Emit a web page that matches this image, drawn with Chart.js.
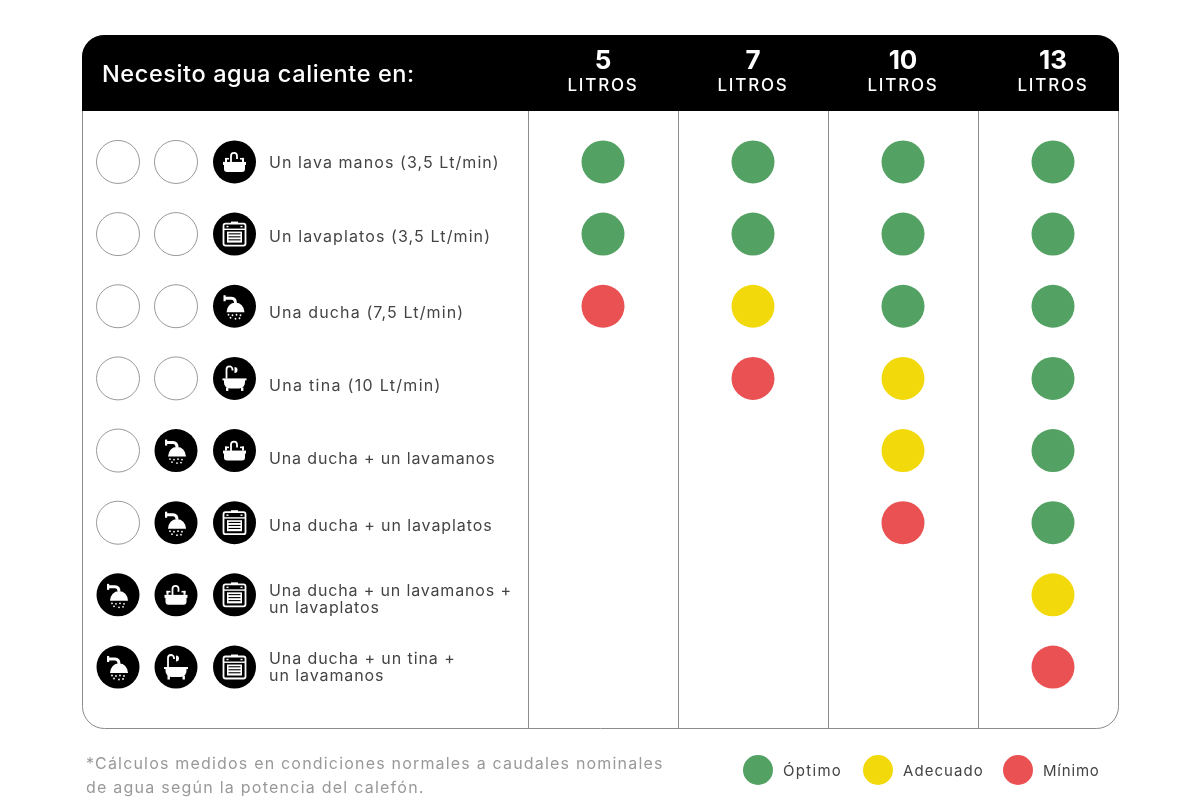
<!DOCTYPE html>
<html lang="es">

<head>
  <meta charset="UTF-8">
  <title>Necesito agua caliente en</title>
  <script src="https://cdn.jsdelivr.net/npm/chart.js"></script>
  <style>
    html, body { margin: 0; padding: 0; background: #fff; }
    canvas { display: block; }
  </style>
</head>

<body>
  <canvas id="grafico" width="1200" height="807"></canvas>

<script>
  const litros = ['5', '7', '10', '13'];
  const usos = [
    ['Un lava manos (3,5 Lt/min)'],
    ['Un lavaplatos (3,5 Lt/min)'],
    ['Una ducha (7,5 Lt/min)'],
    ['Una tina (10 Lt/min)'],
    ['Una ducha + un lavamanos'],
    ['Una ducha + un lavaplatos'],
    ['Una ducha + un lavamanos +', 'un lavaplatos'],
    ['Una ducha + un tina +', 'un lavamanos']
  ];

  // 1 = minimo, 2 = adecuado, 3 = optimo, 0 = nada
  const nivel5 = [3, 3, 1, 0, 0, 0, 0, 0];
  const nivel7 = [3, 3, 2, 1, 0, 0, 0, 0];
  const nivel10 = [3, 3, 3, 2, 2, 1, 0, 0];
  const nivel13 = [3, 3, 3, 3, 3, 3, 2, 1];
  const niveles = [nivel5, nivel7, nivel10, nivel13];

  const nombresNivel = ['Óptimo', 'Adecuado', 'Mínimo'];
  const valoresNivel = [3, 2, 1];
  const coloresNivel = ['#53a264', '#f2d90b', '#e95153'];

  const iconos = [
    [null, null, 'lavamanos'],
    [null, null, 'lavaplatos'],
    [null, null, 'ducha'],
    [null, null, 'tina'],
    [null, 'ducha', 'lavamanos'],
    [null, 'ducha', 'lavaplatos'],
    ['ducha', 'lavamanos', 'lavaplatos'],
    ['ducha', 'tina', 'lavaplatos']
  ];

  const ajusteTexto = [1, 3, 7, 8, 9, 3, -4, -8];
  const espacioTexto = [1.08, 1.1, 1.12, 1.3, 0.87, 0.9, 0.85, 0.92];
  const FUENTE = 'Inter, sans-serif';

  function puntos(valor) {
    const lista = [];
    niveles.forEach((col, i) => {
      col.forEach((n, fila) => {
        if (n === valor) lista.push({ x: litros[i], y: fila });
      });
    });
    return lista;
  }

  function texto(ctx, str, x, y, font, color, align, espacio) {
    ctx.font = font;
    ctx.fillStyle = color;
    ctx.textAlign = align || 'left';
    ctx.textBaseline = 'middle';
    ctx.letterSpacing = (espacio || 0) + 'px';
    ctx.fillText(str, x, y);
    ctx.letterSpacing = '0px';
  }

  function cajaRedonda(ctx, x, y, w, h, r) {
    ctx.beginPath();
    ctx.roundRect(x, y, w, h, r);
  }

  function lavamanos(ctx) {
    ctx.fillRect(-11.5, 0, 23, 3);
    cajaRedonda(ctx, -10.5, 2, 21, 8, [0, 0, 3, 3]);
    ctx.fill();
    ctx.beginPath();
    ctx.moveTo(-3.5, 1);
    ctx.lineTo(-3.5, -6);
    ctx.arc(-0.5, -6, 3, Math.PI, 0);
    ctx.lineTo(2.5, -3);
    ctx.stroke();
    ctx.fillRect(-9.5, -4, 2, 4);
    ctx.fillRect(-9.5, -4, 4, 1.6);
    ctx.fillRect(7.5, -4, 2, 4);
    ctx.fillRect(5.5, -4, 4, 1.6);
  }

  function lavaplatos(ctx) {
    cajaRedonda(ctx, -11, -10.5, 22, 22, 2);
    ctx.stroke();
    ctx.fillRect(-3.5, -12.5, 7, 2.4);
    ctx.fillRect(-11, -5.5, 22, 1.4);
    ctx.fillRect(-8, -8.2, 2, 1.4);
    ctx.fillRect(6, -8.2, 2, 1.4);
    ctx.fillRect(-7.5, -2.5, 15, 11);
    ctx.fillStyle = '#000';
    for (let i = 0; i < 3; i++) ctx.fillRect(-6, -0.8 + i * 3, 12, 1.1);
    ctx.fillStyle = '#fff';
  }

  function ducha(ctx) {
    ctx.beginPath();
    ctx.moveTo(-10, -8);
    ctx.lineTo(-3, -8);
    ctx.quadraticCurveTo(1, -8, 1, -3);
    ctx.lineWidth = 3;
    ctx.stroke();
    ctx.fillRect(-11, -11, 2.2, 6);
    ctx.beginPath();
    ctx.moveTo(-8, 6);
    ctx.quadraticCurveTo(-7, -3.5, 1, -3.5);
    ctx.quadraticCurveTo(9, -3.5, 10, 6);
    ctx.closePath();
    ctx.fill();
    [[-6, 8.5], [-2, 9], [2, 8.5], [6, 9], [-4, 11.5], [1, 12.5], [5, 12]].forEach(p => {
      ctx.beginPath();
      ctx.arc(p[0], p[1], 0.9, 0, Math.PI * 2);
      ctx.fill();
    });
  }

  function tina(ctx) {
    ctx.fillRect(-12, 0, 24, 2);
    cajaRedonda(ctx, -10.5, 1, 21, 9, [0, 0, 6, 6]);
    ctx.fill();
    ctx.fillRect(-8.5, 9, 2.4, 3.5);
    ctx.fillRect(6.5, 9, 2.4, 3.5);
    ctx.beginPath();
    ctx.moveTo(-8, 0);
    ctx.lineTo(-8, -9);
    ctx.arc(-5, -9, 3, Math.PI, 0);
    ctx.lineTo(-2, -8);
    ctx.stroke();
    ctx.beginPath();
    ctx.arc(0, -8.5, 3, -Math.PI / 2, Math.PI / 2);
    ctx.closePath();
    ctx.fill();
  }

  const dibujos = { lavamanos, lavaplatos, ducha, tina };

  const tablaPlugin = {
    id: 'tabla',
    beforeDraw(chart) {
      const ctx = chart.ctx;
      ctx.save();
      ctx.fillStyle = '#fff';
      ctx.fillRect(0, 0, chart.width, chart.height);
      cajaRedonda(ctx, 82.5, 35.5, 1036, 693, 22);
      ctx.strokeStyle = '#8c8c8c';
      ctx.lineWidth = 1;
      ctx.stroke();
      cajaRedonda(ctx, 82, 35, 1037, 76, [22, 22, 0, 0]);
      ctx.fillStyle = '#000';
      ctx.fill();
      ctx.restore();
    },
    afterDraw(chart) {
      const ctx = chart.ctx;
      const x = chart.scales.x;
      const y = chart.scales.y;
      ctx.save();

      texto(ctx, 'Necesito agua caliente en:', 102, 75, '500 23.5px ' + FUENTE, '#fff', 'left', 0.6);
      litros.forEach((l, i) => {
        const px = x.getPixelForValue(i);
        texto(ctx, l, px, 61, '700 26px ' + FUENTE, '#fff', 'center');
        texto(ctx, 'LITROS', px, 86, '500 17px ' + FUENTE, '#fff', 'center', 1.8);
      });

      usos.forEach((lineas, fila) => {
        const py = y.getPixelForValue(fila);
        lineas.forEach((linea, j) => {
          texto(ctx, linea, 269, py + ajusteTexto[fila] + j * 17, '400 16px ' + FUENTE, '#444', 'left', espacioTexto[fila]);
        });
        iconos[fila].forEach((icono, k) => {
          const cx = [118, 176, 234.5][k];
          ctx.beginPath();
          ctx.arc(cx, py, 21.5, 0, Math.PI * 2);
          if (icono) {
            ctx.fillStyle = '#000';
            ctx.fill();
            ctx.save();
            ctx.translate(cx, py);
            ctx.fillStyle = '#fff';
            ctx.strokeStyle = '#fff';
            ctx.lineWidth = 1.8;
            dibujos[icono](ctx);
            ctx.restore();
          } else {
            ctx.strokeStyle = '#9a9a9a';
            ctx.lineWidth = 1;
            ctx.stroke();
          }
        });
      });

      texto(ctx, '*Cálculos medidos en condiciones normales a caudales nominales', 86, 764, '400 16px ' + FUENTE, '#999', 'left', 1.19);
      texto(ctx, 'de agua según la potencia del calefón.', 86, 788, '400 16px ' + FUENTE, '#999', 'left', 1.24);

      chart.data.datasets.forEach((ds, i) => {
        const cx = [758, 878, 1018][i];
        ctx.beginPath();
        ctx.arc(cx, 770, 15, 0, Math.PI * 2);
        ctx.fillStyle = ds.backgroundColor;
        ctx.fill();
        texto(ctx, ds.label, cx + 25, 771, '400 15px ' + FUENTE, '#444', 'left', [1.3, 1.05, 0.8][i]);
      });
      ctx.restore();
    }
  };

  new Chart(document.getElementById('grafico'), {
    type: 'scatter',
    data: {
      labels: litros,
      datasets: nombresNivel.map((nombre, i) => ({
        label: nombre,
        data: puntos(valoresNivel[i]),
        backgroundColor: coloresNivel[i],
        borderWidth: 0,
        pointRadius: 21.5,
        pointHoverRadius: 21.5
      }))
    },
    options: {
      responsive: false,
      animation: false,
      devicePixelRatio: 1,
      layout: { padding: { left: 528, right: 72, top: 111, bottom: 78 } },
      plugins: { legend: { display: false }, tooltip: { enabled: false } },
      scales: {
        x: {
          type: 'category',
          labels: litros,
          offset: true,
          border: { display: false },
          ticks: { display: false },
          grid: {
            offset: true,
            drawTicks: false,
            lineWidth: 1,
            // la linea extra del final cae fuera de la tabla
            color: c => (c.tick ? '#8c8c8c' : 'transparent')
          }
        },
        y: {
          type: 'linear',
          reverse: true,
          min: -0.706,
          max: 7.859,
          display: false
        }
      }
    },
    plugins: [tablaPlugin]
  });
</script>
</body>

</html>
